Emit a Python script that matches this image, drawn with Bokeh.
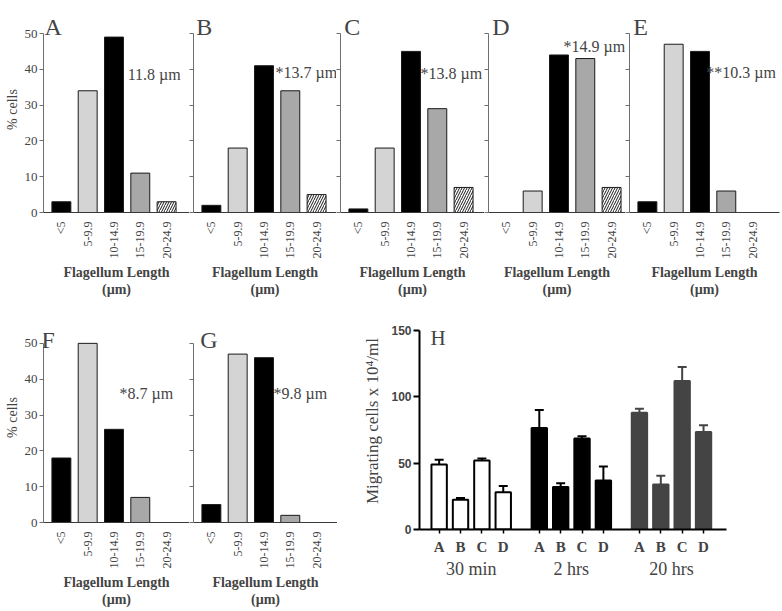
import math
from bokeh.plotting import figure
from bokeh.layouts import column, row
from bokeh.models import FixedTicker, Label, LinearAxis, Range1d, ColumnDataSource
from bokeh.embed import file_html
from bokeh.resources import INLINE

# ---------------- data ----------------
categories = ["<5", "5-9.9", "10-14.9", "15-19.9", "20-24.9"]
pct_A = [3, 34, 49, 11, 3]
pct_B = [2, 18, 41, 34, 5]
pct_C = [1, 18, 45, 29, 7]
pct_D = [0, 6, 44, 43, 7]
pct_E = [3, 47, 45, 6, 0]
pct_F = [18, 50, 26, 7, 0]
pct_G = [5, 47, 46, 2, 0]
panel_letters = ["A", "B", "C", "D", "E", "F", "G"]
mean_lengths = ["11.8 \u00b5m", "*13.7 \u00b5m", "*13.8 \u00b5m", "*14.9 \u00b5m",
                "**10.3 \u00b5m", "*8.7 \u00b5m", "*9.8 \u00b5m"]
y_ticks_pct = [0, 10, 20, 30, 40, 50]

conditions = ["A", "B", "C", "D"]
timepoints = ["30 min", "2 hrs", "20 hrs"]
mig_30min = [49, 22.5, 52, 28]
err_30min = [3.5, 1.3, 1.5, 4.8]
mig_2h = [76.5, 32, 68.5, 37]
err_2h = [13.5, 2.8, 1.8, 10.5]
mig_20h = [88, 34, 112, 73.5]
err_20h = [3, 6.5, 10.5, 5]
y_ticks_mig = [0, 50, 100, 150]

# ---------------- styles ----------------
SERIF = "Liberation Serif"
SANS = "Liberation Sans"
bar_fill = ["black", "#d4d4d4", "black", "#a8a8a8", "white"]
bar_hatch = [" ", " ", " ", " ", "/"]
AXIS_GREY = "#6e6e6e"
UNIT = 26.3      # px per category
X0 = -0.68


def hist_panel(values, letter, mean_label, mean_xy, letter_xy,
               bl, fw, br, bt, fh, bb, px_per_pct, show_y):
    p = figure(width=bl + fw + br, height=bt + fh + bb,
               x_range=Range1d(X0, X0 + fw / UNIT),
               y_range=Range1d(0, fh / px_per_pct),
               output_backend="svg", toolbar_location=None,
               min_border_left=bl, min_border_right=br,
               min_border_top=bt, min_border_bottom=bb)
    p.frame_align = False
    p.outline_line_color = None
    p.grid.grid_line_color = None
    src = ColumnDataSource(dict(x=list(range(len(categories))), top=values,
                                fill=bar_fill, hatch=bar_hatch))
    p.vbar(x="x", top="top", width=0.72, source=src, fill_color="fill",
           line_color="#1a1a1a", line_width=1, hatch_pattern="hatch",
           hatch_color="black", hatch_scale=5, hatch_weight=0.9)

    xa = p.xaxis[0]
    xa.ticker = FixedTicker(ticks=list(range(len(categories))))
    xa.major_label_overrides = {i: c for i, c in enumerate(categories)}
    xa.major_label_orientation = math.pi / 2
    xa.major_label_text_font = SERIF
    xa.major_label_text_font_size = "12px"
    xa.major_label_standoff = 9
    xa.major_tick_out = 0
    xa.major_tick_in = 0
    xa.minor_tick_line_color = None
    xa.axis_line_color = "#3a3a3a"
    xa.axis_label = "Flagellum Length\n(\u00b5m)"
    xa.axis_label_text_font = SERIF
    xa.axis_label_text_font_style = "bold"
    xa.axis_label_text_font_size = "14px"
    xa.axis_label_text_line_height = 1.12
    xa.axis_label_standoff = 4

    ya = p.yaxis[0]
    ya.ticker = FixedTicker(ticks=y_ticks_pct)
    ya.bounds = (0, 50)
    ya.axis_line_color = AXIS_GREY
    ya.major_tick_line_color = AXIS_GREY
    ya.major_tick_out = 4
    ya.major_tick_in = 0
    ya.minor_tick_line_color = None
    if show_y:
        ya.major_label_text_font = SERIF
        ya.major_label_text_font_size = "13px"
        ya.major_label_standoff = 2
        ya.axis_label = "% cells"
        ya.axis_label_text_font = SERIF
        ya.axis_label_text_font_style = "normal"
        ya.axis_label_text_font_size = "14px"
        ya.axis_label_standoff = 2
    else:
        ya.major_label_overrides = {t: "" for t in y_ticks_pct}
        ya.major_label_standoff = 0

    p.add_layout(Label(x=letter_xy[0], y=letter_xy[1], text=letter,
                       text_font=SERIF, text_font_size="24px",
                       text_baseline="alphabetic"))
    p.add_layout(Label(x=mean_xy[0], y=mean_xy[1], text=mean_label,
                       text_font=SERIF, text_font_size="16px",
                       text_baseline="middle", text_align="left"))
    return p


# top row: frame from y=6 to y=212 (50 % = 179 px)
T_BT, T_FH, T_BB, T_PPU = 6, 206, 96, 179 / 50
# bottom row: frame from y=312 to y=523 (50 % = 180 px)
B_BT, B_FH, B_BB, B_PPU = 4, 211, 87, 180 / 50

pA = hist_panel(pct_A, panel_letters[0], mean_lengths[0], (2.52, 38.5), (-0.64, 51.7),
                43, 146, 0, T_BT, T_FH, T_BB, T_PPU, True)
pB = hist_panel(pct_B, panel_letters[1], mean_lengths[1], (2.44, 39.1), (-0.58, 51.7),
                4, 143, 0, T_BT, T_FH, T_BB, T_PPU, False)
pC = hist_panel(pct_C, panel_letters[2], mean_lengths[2], (2.36, 38.8), (-0.54, 51.7),
                4, 144, 0, T_BT, T_FH, T_BB, T_PPU, False)
pD = hist_panel(pct_D, panel_letters[3], mean_lengths[3], (2.17, 46.4), (-0.54, 51.7),
                4, 137, 0, T_BT, T_FH, T_BB, T_PPU, False)
pE = hist_panel(pct_E, panel_letters[4], mean_lengths[4], (2.24, 39.1), (-0.54, 51.7),
                4, 150, 3, T_BT, T_FH, T_BB, T_PPU, False)
pF = hist_panel(pct_F, panel_letters[5], mean_lengths[5], (2.21, 36.1), (-0.76, 50.8),
                43, 146, 0, B_BT, B_FH, B_BB, B_PPU, True)
pG = hist_panel(pct_G, panel_letters[6], mean_lengths[6], (2.36, 36.1), (-0.42, 50.8),
                4, 144, 0, B_BT, B_FH, B_BB, B_PPU, False)

# ---------------- panel H ----------------
STEP = 4.6875
group_series = [mig_30min, mig_2h, mig_20h]
group_errs = [err_30min, err_2h, err_20h]
group_fill = ["white", "black", "#444444"]
group_line = ["black", "black", "#444444"]

xs, tops, errs, fills, lines, labels = [], [], [], [], [], []
for g, (vals, es) in enumerate(zip(group_series, group_errs)):
    for i, (v, e) in enumerate(zip(vals, es)):
        xs.append(g * STEP + i)
        tops.append(v)
        errs.append(v + e)
        fills.append(group_fill[g])
        lines.append(group_line[g])
        labels.append(conditions[i])

CAP = 0.21
hsrc = ColumnDataSource(dict(x=xs, top=tops, up=errs, fill=fills, line=lines,
                             cx0=[x - CAP for x in xs], cx1=[x + CAP for x in xs]))

H_BL, H_FW, H_BR = 82, 307, 56
H_BT, H_FH, H_BB = 4, 217, 81
H_PPU = 199 / 150
pH = figure(width=H_BL + H_FW + H_BR, height=H_BT + H_FH + H_BB,
            x_range=Range1d(-0.92, 13.45), y_range=Range1d(0, H_FH / H_PPU),
            output_backend="svg", toolbar_location=None,
            min_border_left=H_BL, min_border_right=H_BR,
            min_border_top=H_BT, min_border_bottom=H_BB)
pH.frame_align = False
pH.outline_line_color = None
pH.grid.grid_line_color = None
pH.segment(x0="x", y0="top", x1="x", y1="up", source=hsrc, line_color="line", line_width=2)
pH.segment(x0="cx0", y0="up", x1="cx1", y1="up", source=hsrc, line_color="line", line_width=2)
pH.vbar(x="x", top="top", width=0.72, source=hsrc, fill_color="fill",
        line_color="line", line_width=2)

hx = pH.xaxis[0]
hx.ticker = FixedTicker(ticks=xs)
hx.major_label_overrides = {x: l for x, l in zip(xs, labels)}
hx.major_label_text_font = SERIF
hx.major_label_text_font_style = "bold"
hx.major_label_text_font_size = "15px"
hx.major_label_standoff = 5
hx.major_tick_out = 4
hx.major_tick_in = 0
hx.major_tick_line_width = 1.5
hx.minor_tick_line_color = None
hx.axis_line_width = 2
hx.axis_line_color = "black"

centers = [g * STEP + (len(conditions) - 1) / 2 for g in range(len(timepoints))]
gx = LinearAxis(ticker=FixedTicker(ticks=centers),
                major_label_overrides={c: t for c, t in zip(centers, timepoints)})
gx.axis_line_color = None
gx.major_tick_line_color = None
gx.minor_tick_line_color = None
gx.major_label_text_font = SERIF
gx.major_label_text_font_size = "18px"
gx.major_label_standoff = -5
pH.add_layout(gx, "below")

hy = pH.yaxis[0]
hy.ticker = FixedTicker(ticks=y_ticks_mig)
hy.bounds = (0, 150)
hy.major_label_text_font = SANS
hy.major_label_text_font_style = "bold"
hy.major_label_text_font_size = "12px"
hy.major_label_standoff = 2
hy.major_tick_out = 6
hy.major_tick_in = 0
hy.major_tick_line_width = 2
hy.minor_tick_line_color = None
hy.axis_line_width = 2
hy.axis_line_color = "black"
hy.axis_label = "Migrating cells x 10\u2074/ml"
hy.axis_label_text_font = SERIF
hy.axis_label_text_font_style = "normal"
hy.axis_label_text_font_size = "17px"
hy.axis_label_standoff = 6

pH.add_layout(Label(x=-0.40, y=144.7, text="H", text_font=SERIF,
                    text_font_size="21px", text_baseline="alphabetic"))

layout = column(row(pA, pB, pC, pD, pE), row(pF, pG, pH))
open("out.html", "w").write(file_html(layout, INLINE))
